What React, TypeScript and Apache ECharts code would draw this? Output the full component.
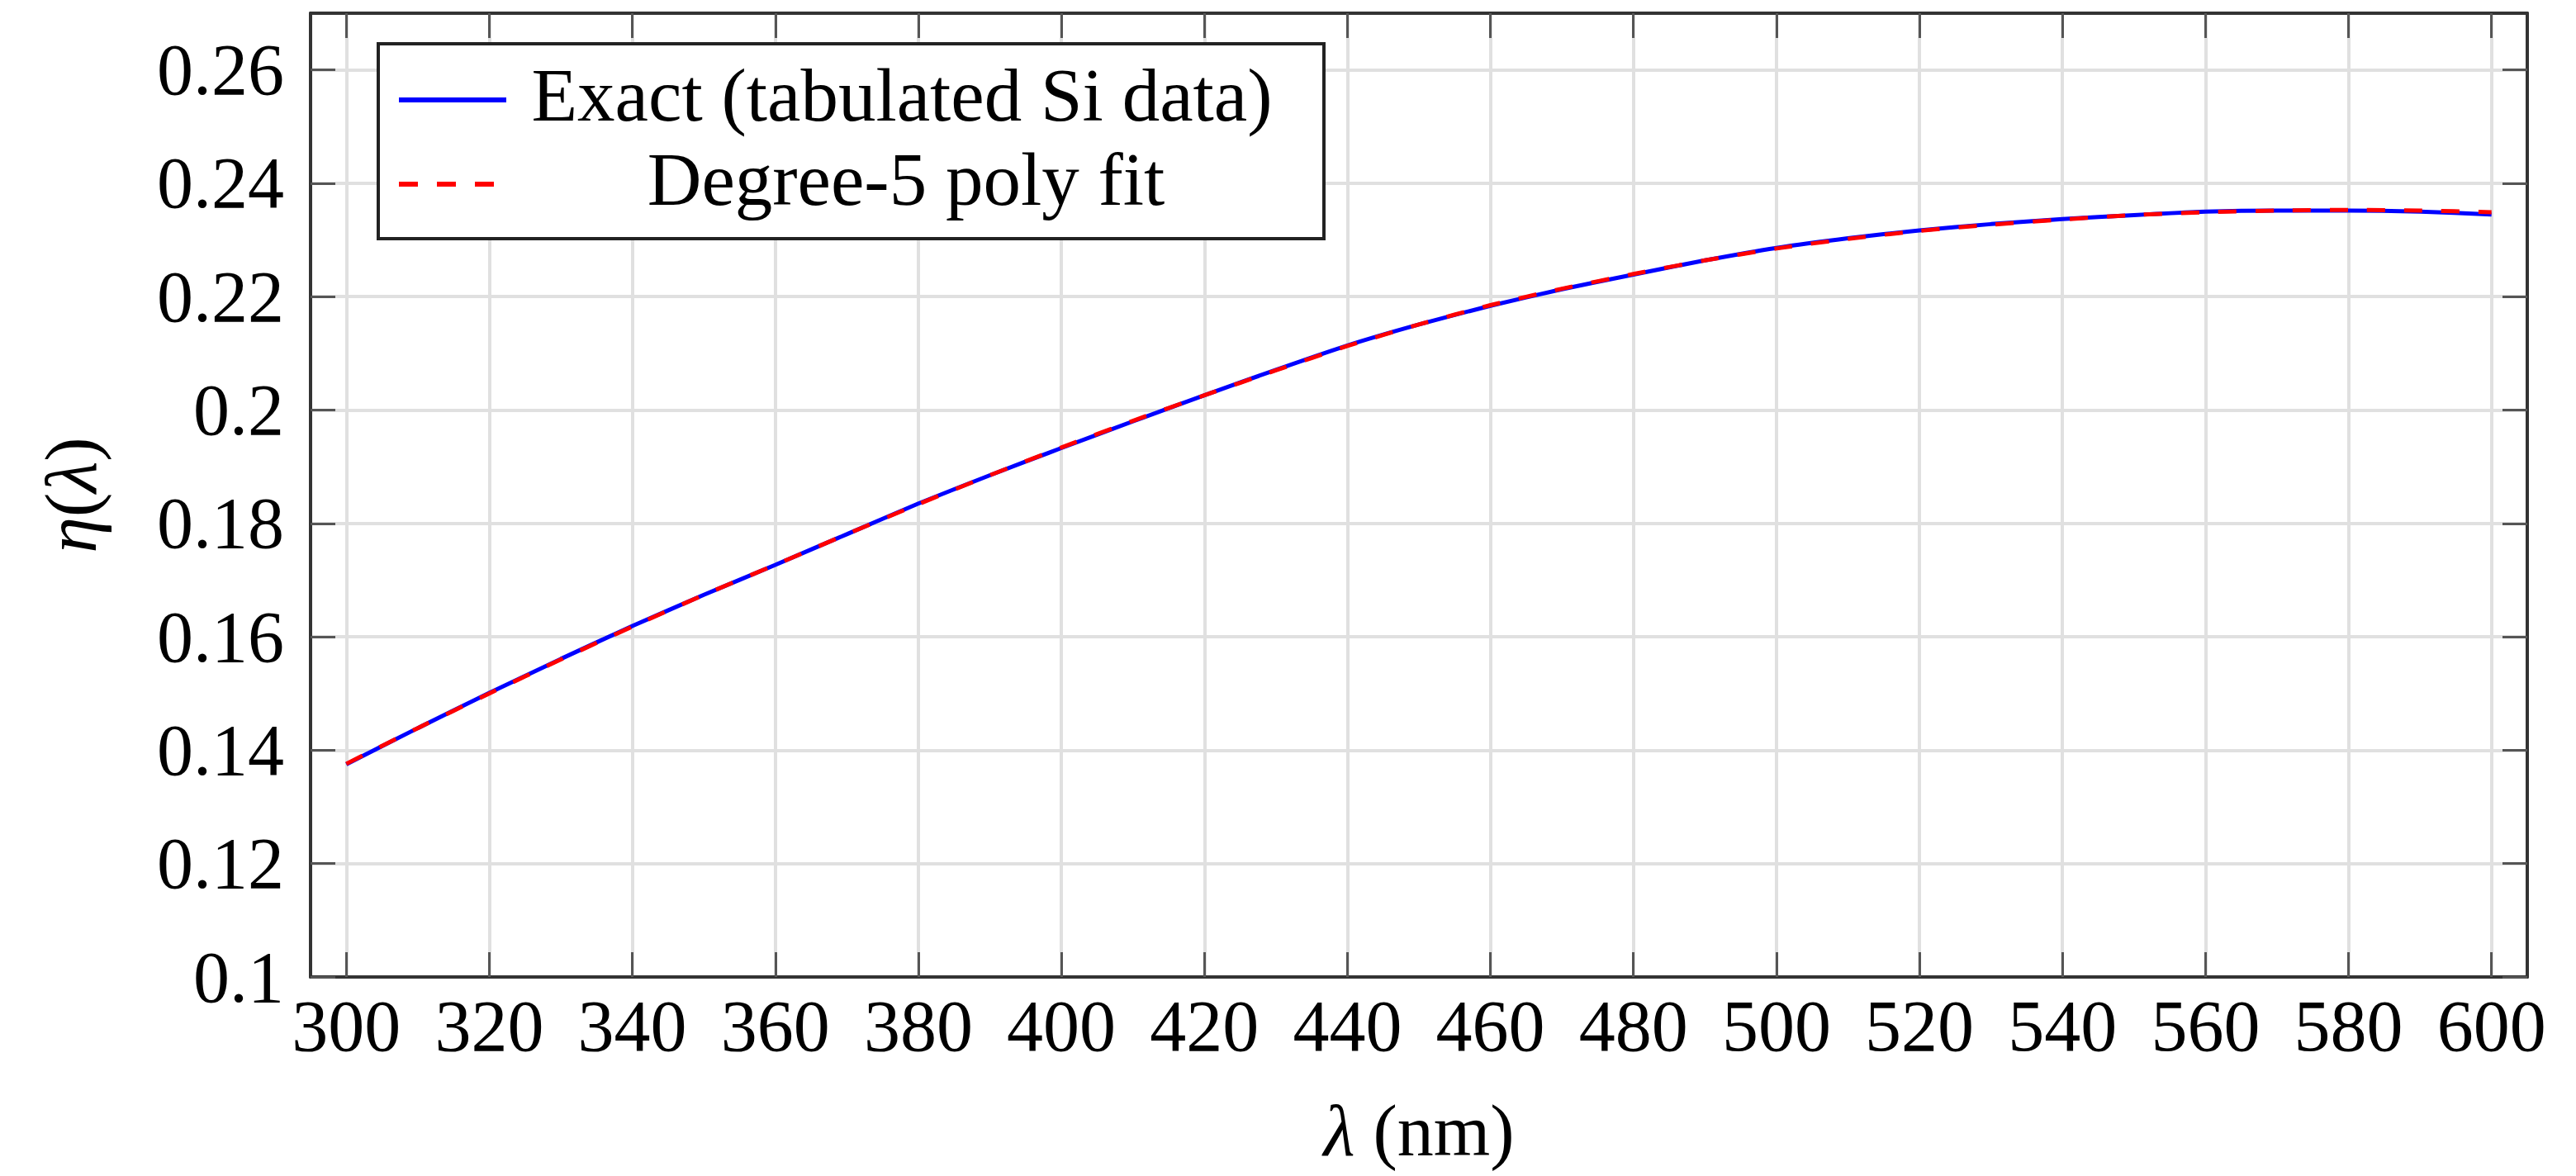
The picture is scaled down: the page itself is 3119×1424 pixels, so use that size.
import React, { useEffect, useRef } from 'react';
import * as echarts from 'echarts';

// ---- data ----
const wavelengths = [300, 310, 320, 330, 340, 350, 360, 370, 380, 390, 400, 410, 420, 430, 440, 450, 460, 470, 480, 490, 500, 510, 520, 530, 540, 550, 560, 570, 580, 590, 600];
const exactEta = [0.1375, 0.1439, 0.1501, 0.1561, 0.1619, 0.1674, 0.1727, 0.1781, 0.1835, 0.1885, 0.1933, 0.198, 0.2026, 0.2071, 0.2114, 0.2151, 0.2184, 0.2213, 0.2239, 0.2264, 0.2286, 0.2303, 0.2317, 0.2328, 0.2337, 0.2344, 0.235, 0.2352, 0.2352, 0.235, 0.2345];
const fitEta = [0.1376, 0.1439, 0.15, 0.156, 0.1618, 0.1674, 0.1727, 0.1781, 0.1834, 0.1885, 0.1934, 0.1981, 0.2026, 0.207, 0.2113, 0.2151, 0.2185, 0.2214, 0.224, 0.2264, 0.2285, 0.2302, 0.2316, 0.2327, 0.2336, 0.2344, 0.2349, 0.2352, 0.2353, 0.2352, 0.2349];
const xTicks = [300, 320, 340, 360, 380, 400, 420, 440, 460, 480, 500, 520, 540, 560, 580, 600];
const yTicks = [0.1, 0.12, 0.14, 0.16, 0.18, 0.2, 0.22, 0.24, 0.26];
const seriesNames = ['Exact (tabulated Si data)', 'Degree-5 poly fit'];
const xRange = [295, 605];
const yRange = [0.1, 0.27];

const FONT = '"Liberation Serif", "Times New Roman", serif';
const FS = 88;
const LFS = 91;

export default function App() {
  const ref = useRef<HTMLDivElement>(null);
  useEffect(() => {
    const chart = echarts.init(ref.current as HTMLDivElement, null, { renderer: 'svg' });

    const frameLine = { show: true, lineStyle: { color: '#333', width: 4 } };
    const tickStyle = { show: true, inside: true, length: 30, lineStyle: { color: '#555', width: 3 } };
    const rich = { i: { fontStyle: 'italic', fontFamily: FONT, fontSize: FS, color: '#000' } };

    const option: any = {
      animation: false,
      backgroundColor: '#fff',
      grid: { left: 376, right: 59, top: 16, bottom: 241, containLabel: false },
      xAxis: [
        {
          type: 'value', min: xRange[0], max: xRange[1], position: 'bottom',
          axisLine: { ...frameLine, onZero: false },
          axisTick: { ...tickStyle, customValues: xTicks },
          axisLabel: { customValues: xTicks, fontFamily: FONT, fontSize: FS, color: '#000', margin: 15 },
          splitLine: { show: true, lineStyle: { color: '#e0e0e0', width: 4 } },
          name: '{i|λ} (nm)', nameLocation: 'middle', nameGap: 142,
          nameTextStyle: { fontFamily: FONT, fontSize: FS, color: '#000', rich },
        },
        {
          type: 'value', min: xRange[0], max: xRange[1], position: 'top',
          axisLine: { ...frameLine, onZero: false },
          axisTick: { ...tickStyle, customValues: xTicks },
          axisLabel: { show: false },
          splitLine: { show: false },
        },
      ],
      yAxis: [
        {
          type: 'value', min: yRange[0], max: yRange[1], position: 'left',
          axisLine: { ...frameLine, onZero: false },
          axisTick: { ...tickStyle, customValues: yTicks },
          axisLabel: {
            customValues: yTicks, fontFamily: FONT, fontSize: FS, color: '#000', margin: 32,
            formatter: (v: number) => String(Math.round(v * 100) / 100),
          },
          splitLine: { show: true, lineStyle: { color: '#e0e0e0', width: 4 } },
          name: '{i|η}({i|λ})', nameLocation: 'middle', nameGap: 246, nameRotate: 90,
          nameTextStyle: { fontFamily: FONT, fontSize: FS, color: '#000', rich },
        },
        {
          type: 'value', min: yRange[0], max: yRange[1], position: 'right',
          axisLine: { ...frameLine, onZero: false },
          axisTick: { ...tickStyle, customValues: yTicks },
          axisLabel: { show: false },
          splitLine: { show: false },
        },
      ],
      series: [
        {
          name: seriesNames[0], type: 'line', xAxisIndex: 0, yAxisIndex: 0,
          data: wavelengths.map((l, i) => [l, exactEta[i]]),
          showSymbol: false, smooth: 0.2,
          lineStyle: { color: '#0000ff', width: 5 }, z: 3,
        },
        {
          name: seriesNames[1], type: 'line', xAxisIndex: 0, yAxisIndex: 0,
          data: wavelengths.map((l, i) => [l, fitEta[i]]),
          showSymbol: false, smooth: 0.2,
          lineStyle: { color: '#ff0000', width: 5, type: [22, 23] }, z: 4,
        },
      ],
      graphic: [
        { type: 'rect', z: 100, shape: { x: 458, y: 53, width: 1145, height: 236 }, style: { fill: '#fff', stroke: '#222', lineWidth: 4 } },
        { type: 'line', z: 101, shape: { x1: 483, y1: 121, x2: 613, y2: 121 }, style: { stroke: '#0000ff', lineWidth: 6 } },
        { type: 'line', z: 101, shape: { x1: 483, y1: 223, x2: 598, y2: 223 }, style: { stroke: '#ff0000', lineWidth: 6, lineDash: [23, 23] } },
        { type: 'text', z: 101, x: 1092, y: 115, style: { text: seriesNames[0], font: `${LFS}px ${FONT}`, fill: '#000', textAlign: 'center', textVerticalAlign: 'middle' } },
        { type: 'text', z: 101, x: 1097, y: 217, style: { text: seriesNames[1], font: `${LFS}px ${FONT}`, fill: '#000', textAlign: 'center', textVerticalAlign: 'middle' } },
      ],
    };
    chart.setOption(option);
    return () => chart.dispose();
  }, []);
  return (
    <div
      ref={ref}
      style={{ position: 'fixed', left: 0, top: 0, width: 3119, height: 1424, background: '#fff' }}
    />
  );
}
